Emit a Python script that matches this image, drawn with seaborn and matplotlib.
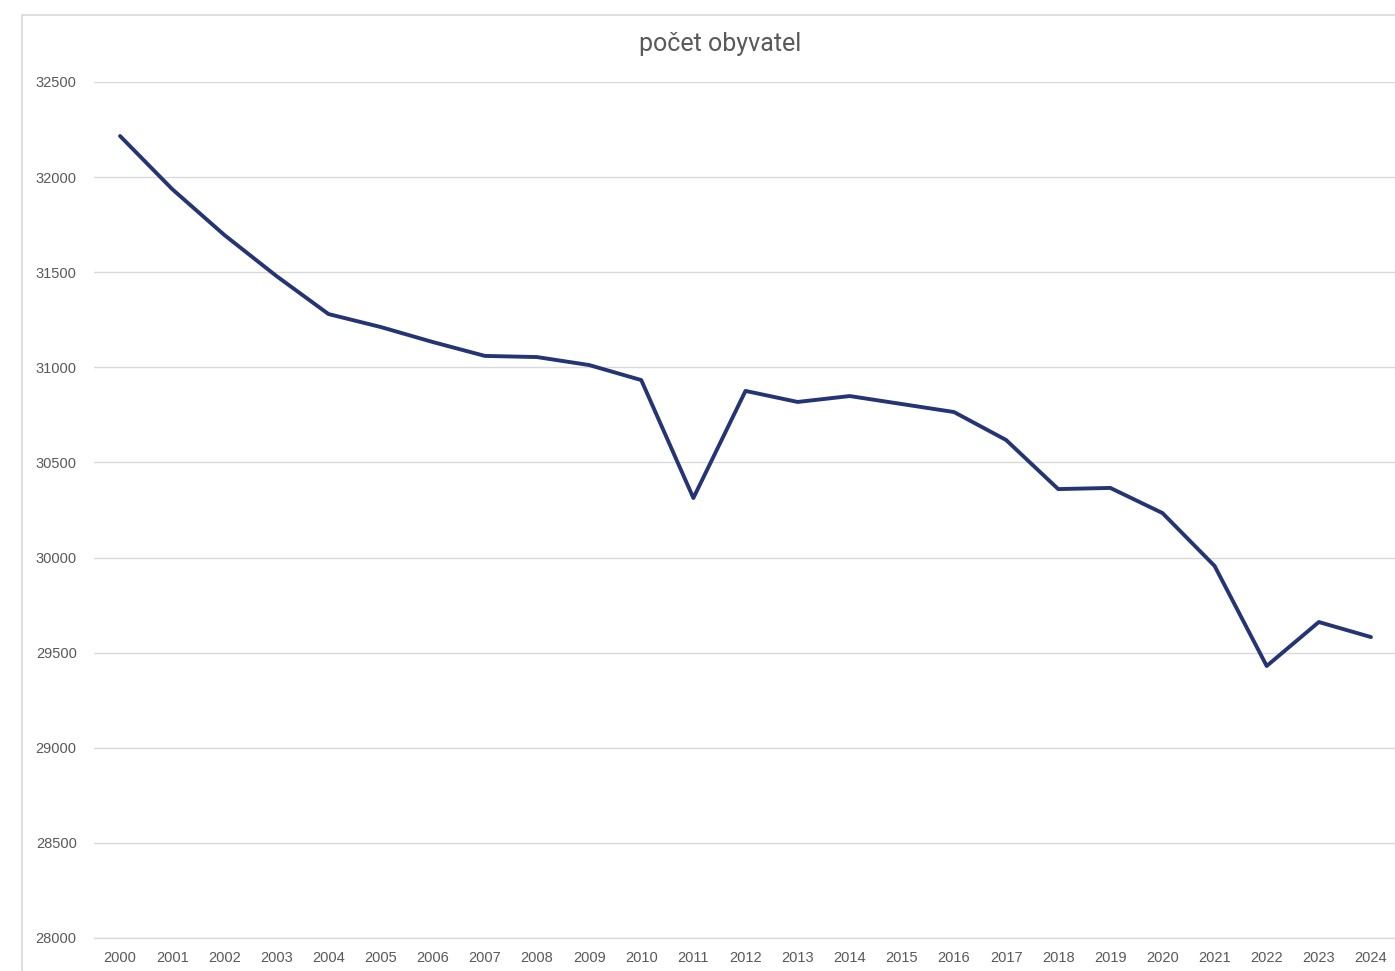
import matplotlib
matplotlib.use("Agg")
import matplotlib.pyplot as plt
import seaborn as sns
import pandas as pd
from matplotlib.patches import Rectangle

# data
roky = list(range(2000, 2025))
obyvatel = [32216, 31937, 31696, 31480, 31280, 31212, 31133, 31060, 31054, 31012,
            30933, 30313, 30876, 30818, 30849, 30807, 30765, 30618, 30360, 30366,
            30234, 29956, 29430, 29661, 29582]
y_ticks = list(range(28000, 33000, 500))

df = pd.DataFrame({"rok": roky, "obyvatel": obyvatel})

sns.set_theme(style="white")
plt.rcParams["font.family"] = ["Liberation Sans", "DejaVu Sans"]

fig = plt.figure(figsize=(13.95, 9.71), dpi=100)
ax = fig.add_axes([94 / 1395, 1 - 938 / 971, 1303 / 1395, (938 - 82) / 971])

# chart border (Excel style)
fig.patches.append(Rectangle((22 / 1395, -0.1), 1.2, 1.1 - 15 / 971,
                             transform=fig.transFigure, fill=False,
                             edgecolor="#d9d9d9", linewidth=1.2, zorder=0))

sns.lineplot(data=df, x="rok", y="obyvatel", ax=ax, color="#243474",
             linewidth=2.8, zorder=3)

ax.set_xlim(1999.5, 2024.5)
ax.set_ylim(28000, 32500)
ax.set_xticks(roky)
ax.set_yticks(y_ticks)
ax.set_xticklabels([str(r) for r in roky])
ax.yaxis.grid(True, color="#d9d9d9", linewidth=1.0)
ax.xaxis.grid(False)
for s in ["top", "right", "left"]:
    ax.spines[s].set_visible(False)
ax.spines["bottom"].set_color("#d9d9d9")
ax.spines["bottom"].set_linewidth(1.0)
ax.tick_params(axis="both", length=0, labelsize=10.5, labelcolor="#595959")
ax.tick_params(axis="y", pad=12.5)
ax.tick_params(axis="x", pad=9)
ax.set_xlabel("")
ax.set_ylabel("")
ax.patch.set_alpha(0)

fig.text(720 / 1395, 1 - 44 / 971, "počet obyvatel", ha="center", va="center",
         fontsize=18, color="#595959", family=["Roboto", "DejaVu Sans"])

fig.savefig("out.png", dpi=100)
